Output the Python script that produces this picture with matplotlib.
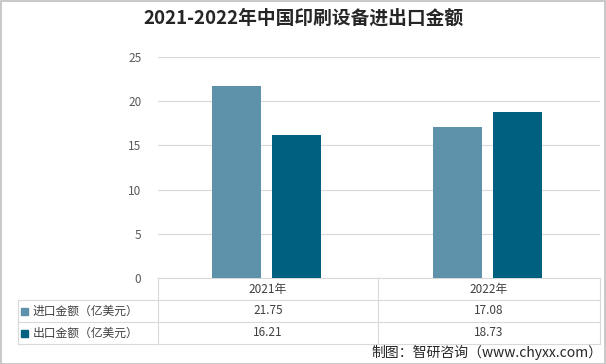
import numpy as np
import matplotlib.pyplot as plt
from matplotlib.patches import Rectangle

plt.rcParams['font.family'] = ['Noto Sans CJK SC', 'DejaVu Sans']

years = ['2021年', '2022年']
series_names = ['进口金额（亿美元）', '出口金额（亿美元）']
imports = [21.75, 17.08]
exports = [16.21, 18.73]
colors = ['#5E92AA', '#00607F']

fig = plt.figure(figsize=(6.06, 3.64), dpi=100)
W, H = 606, 364
ax = fig.add_axes([158 / W, 1 - 278 / H, 442 / W, 221 / H])

x = np.arange(len(years))
bw = 0.22
ax.bar(x - 0.145, imports, bw, color=colors[0], zorder=3)
ax.bar(x + 0.128, exports, bw, color=colors[1], zorder=3)
ax.set_xlim(-0.5, 1.5)
ax.set_ylim(0, 25)
ax.set_yticks([0, 5, 10, 15, 20, 25])
ax.yaxis.grid(True, color='#D9D9D9', lw=0.8, zorder=0)
ax.set_xticks([])
for s in ['top', 'right', 'left']:
    ax.spines[s].set_visible(False)
ax.spines['bottom'].set_color('#D9D9D9')
ax.tick_params(axis='y', length=0, labelsize=8.5, labelcolor='#595959', pad=12)

fig.text(0.5, 1 - 18 / H, '2021-2022年中国印刷设备进出口金额', ha='center', va='center',
         fontsize=13.5, fontweight='bold', color='#262626')

# data table under the axis
lc = '#D9D9D9'
def px(xp, yp):
    return xp / W, 1 - yp / H
def hline(x0, x1, yp):
    fig.add_artist(plt.Line2D([x0 / W, x1 / W], [1 - yp / H, 1 - yp / H], color=lc, lw=0.8))
def vline(xp, y0, y1):
    fig.add_artist(plt.Line2D([xp / W, xp / W], [1 - y0 / H, 1 - y1 / H], color=lc, lw=0.8))

for yp in [300, 322, 344]:
    hline(18, 600, yp)
vline(18, 300, 344)
for xp in [158, 378, 600]:
    vline(xp, 278, 344)

col_centers = [268, 489]
for cx, yr in zip(col_centers, years):
    fig.text(*px(cx, 289), yr, ha='center', va='center', fontsize=8.5, color='#404040')
rows = [imports, exports]
for i, (name, vals) in enumerate(zip(series_names, rows)):
    cy = 311 + 22 * i
    fig.add_artist(Rectangle(px(21, cy + 4), 7 / W, 7 / H, color=colors[i], transform=fig.transFigure))
    fig.text(*px(33, cy), name, ha='left', va='center', fontsize=8.5, color='#404040')
    for cx, v in zip(col_centers, vals):
        fig.text(*px(cx, cy), f'{v:.2f}', ha='center', va='center', fontsize=8.5, color='#404040')

fig.text(*px(602, 352), '制图：智研咨询（www.chyxx.com）', ha='right', va='center',
         fontsize=10, color='#262626')

fig.add_artist(Rectangle((0.5 / W, 0.5 / H), 1 - 1.5 / W, 1 - 1.5 / H, fill=False,
                         edgecolor='#BFBFBF', lw=1.2, transform=fig.transFigure))

fig.savefig('out.png', dpi=100)
